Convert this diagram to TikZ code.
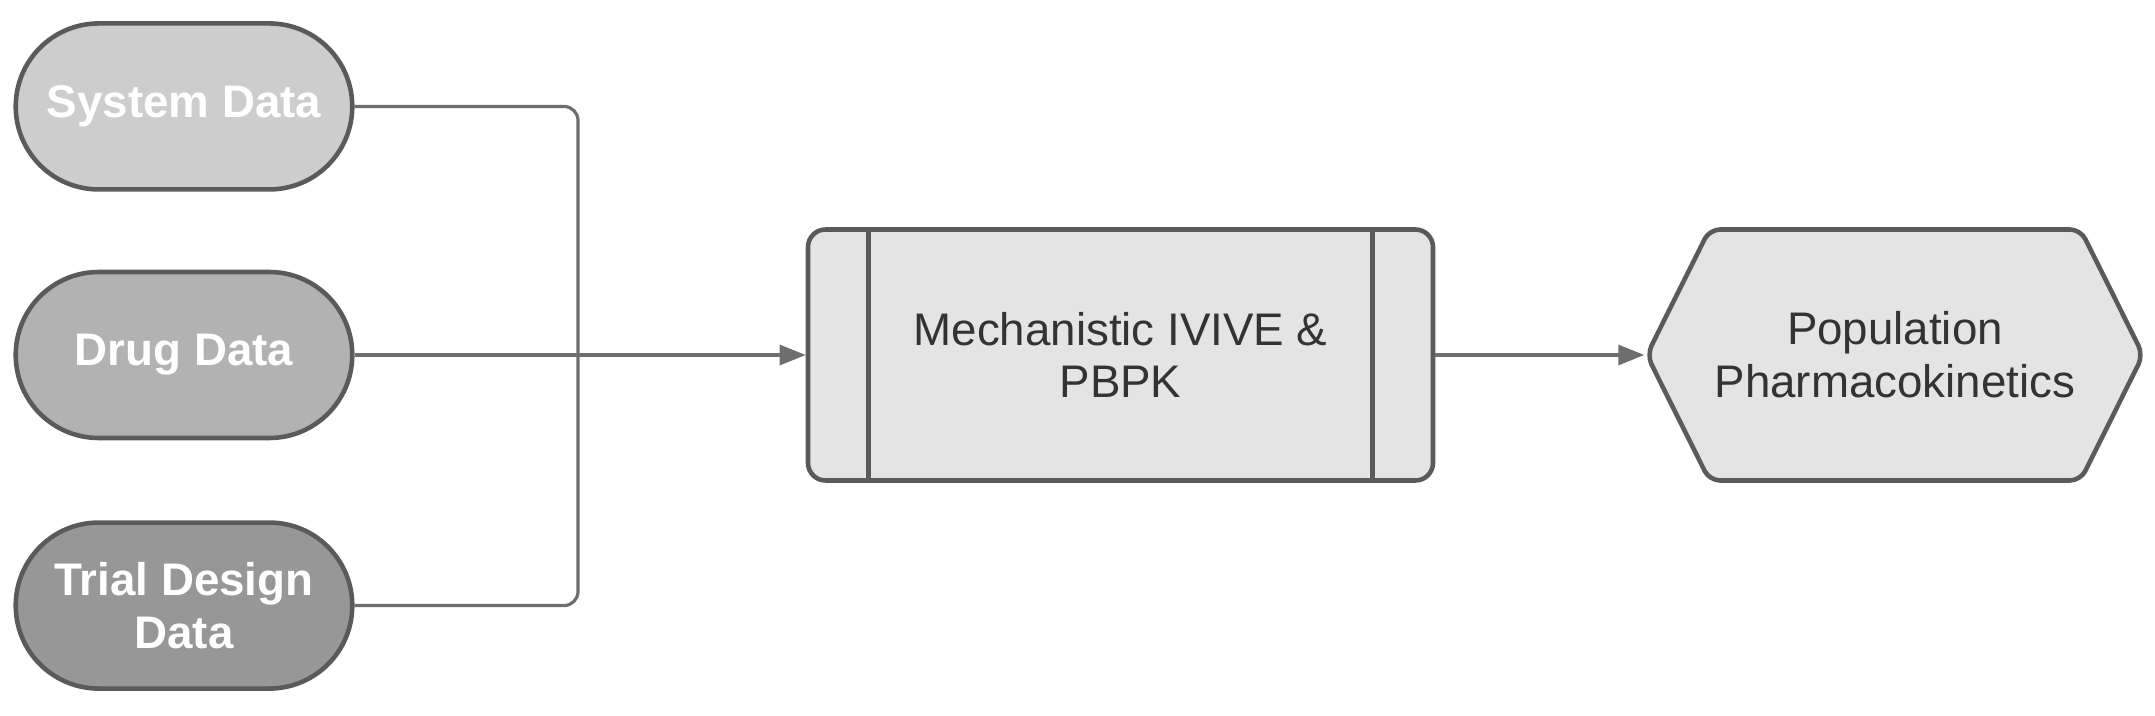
\documentclass[tikz,border=0pt]{standalone}
\usepackage{fontspec}
\setmainfont{Liberation Sans}
\usepackage{tikz}
\usetikzlibrary{shapes,arrows,arrows.meta,fit,positioning}
\usetikzlibrary{calc}
\definecolor{edgegray}{HTML}{5A5A5A}
\definecolor{linegray}{HTML}{6E6E6E}
\definecolor{sysgray}{HTML}{CDCDCD}
\definecolor{druggray}{HTML}{B2B2B2}
\definecolor{trialgray}{HTML}{979797}
\definecolor{boxgray}{HTML}{E4E4E4}
\definecolor{textgray}{HTML}{333333}

\begin{document}
\begin{tikzpicture}[% styles for all nodes and connectors
			every node/.style={
				align=center,  		% "\\" breaks the line
				draw=edgegray,
				line width=1.3pt,
				font=\fontsize{13}{15}\selectfont
			},
			data/.style={rounded rectangle,minimum width=3.6cm,minimum height=1.66cm,
				text=white,font=\bfseries\fontsize{13}{15}\selectfont},
			conn/.style={draw=linegray,line width=0.9pt,rounded corners=4pt},
			tip/.style={-{Triangle[length=0.26cm,width=0.2cm]}}
		]
		\useasboundingbox (0,0) rectangle (21.55,7.15);
		\node[data,fill=druggray](R2) at (1.84,3.60){Drug Data};
		\node[data,fill=sysgray](R1)[above=0.78cm of R2]{System Data};
		\node[data,fill=trialgray](R3)[below=0.80cm of R2]{Trial Design\\Data};
		\node[rectangle,rounded corners=5pt,fill=boxgray,text=textgray,
			minimum width=6.25cm,minimum height=2.51cm](R4) at (11.205,3.60){Mechanistic IVIVE \&\\PBPK};
		\node[signal,signal to=west and east,signal pointer angle=127,rounded corners=3pt,fill=boxgray,text=textgray,
			inner xsep=1.5pt,minimum height=2.51cm](R5)[right=2.09cm of R4]{Population\\Pharmacokinetics};
		% side bars of the process box
		\draw[edgegray,line width=1.3pt] ($(R4.north west)+(0.63,0)$) -- ($(R4.south west)+(0.63,0)$);
		\draw[edgegray,line width=1.3pt] ($(R4.north east)+(-0.63,0)$) -- ($(R4.south east)+(-0.63,0)$);
		\coordinate (J) at (5.78,3.60);
		\draw[conn] (R1.east) -| (J);
		\draw[conn] (R3.east) -| (J);
		\draw[conn,tip] (R2.east) -- (R4.west);
		\draw[conn,tip] (R4.east) -- (R5.west);
	\end{tikzpicture}
\end{document}
